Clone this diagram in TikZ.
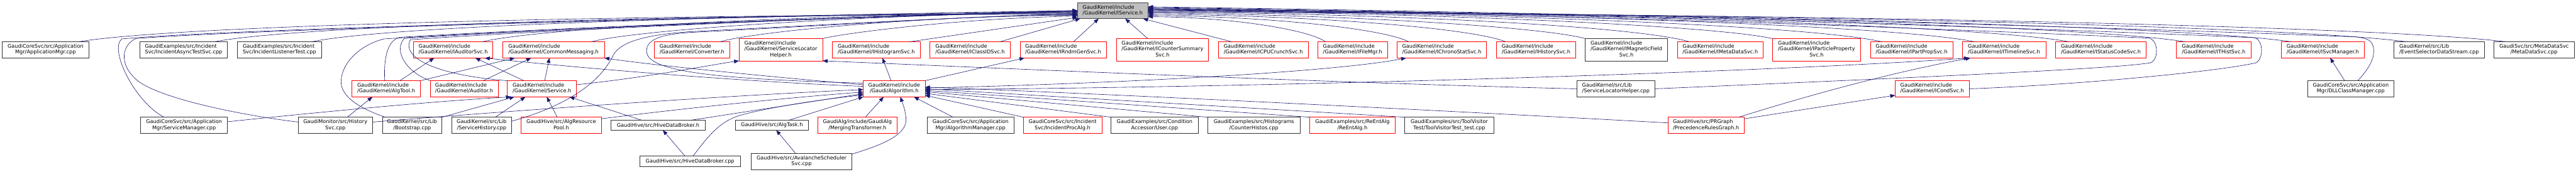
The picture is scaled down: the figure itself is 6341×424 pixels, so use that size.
\documentclass[tikz,border=0pt]{standalone}
\usepackage{fontspec}
\setmainfont{DejaVu Sans}
\usetikzlibrary{arrows.meta,calc}
\definecolor{edgec}{HTML}{191970}
\definecolor{rootfill}{HTML}{BFBFBF}
\definecolor{rootdraw}{HTML}{404040}
\newcommand\twol[2]{\begin{tabular}{@{}l@{}}#1\\\multicolumn{1}{@{}c@{}}{#2}\end{tabular}}
\newcommand\threel[3]{\begin{tabular}{@{}l@{}}#1\\#2\\\multicolumn{1}{@{}c@{}}{#3}\end{tabular}}
\newcommand\bx[7]{\node[#6, minimum width={(#4-#2)*0.75pt}, minimum height={(#5-#3)*0.75pt}] (#1) at ({(#2+#4)/2},{(#3+#5)/2}) {#7};}
\tikzset{
  basebox/.style={draw, line width=0.75pt, inner sep=0pt, outer sep=0pt, font=\fontsize{9.5}{10.75}\selectfont},
  blk/.style={basebox, draw=black!80},
  redbox/.style={basebox, draw=red},
  rootbox/.style={basebox, draw=rootdraw, fill=rootfill},
  edg/.style={draw=edgec, line width=0.7pt, -{Triangle[length=9pt,width=7pt]}},
}
\begin{document}
\begin{tikzpicture}[x=0.75pt,y=-0.75pt]
\fill[white] (0,0) rectangle (6341,424);
\useasboundingbox (0,0) rectangle (6341,424);
% root
\bx{root}{2652}{6}{2826}{46}{rootbox}{\twol{GaudiKernel/include}{/GaudiKernel/IService.h}}
% row 1
\bx{appmgr}{5}{103}{219}{143}{blk}{\twol{GaudiCoreSvc/src/Application}{Mgr/ApplicationMgr.cpp}}
\bx{asynct}{344}{103}{560}{143}{blk}{\twol{GaudiExamples/src/Incident}{Svc/IncidentAsyncTestSvc.cpp}}
\bx{listt}{584}{103}{792}{143}{blk}{\twol{GaudiExamples/src/Incident}{Svc/IncidentListenerTest.cpp}}
\bx{iaud}{1018}{103}{1213}{143}{redbox}{\twol{GaudiKernel/include}{/GaudiKernel/IAuditorSvc.h}}
\bx{commsg}{1237}{103}{1488}{143}{redbox}{\twol{GaudiKernel/include}{/GaudiKernel/CommonMessaging.h}}
\bx{conv}{1611}{103}{1796}{143}{redbox}{\twol{GaudiKernel/include}{/GaudiKernel/Converter.h}}
\bx{slhh}{1819}{95}{2025}{150}{redbox}{\threel{GaudiKernel/include}{/GaudiKernel/ServiceLocator}{Helper.h}}
\bx{ihist}{2049}{103}{2265}{143}{redbox}{\twol{GaudiKernel/include}{/GaudiKernel/IHistogramSvc.h}}
\bx{iclid}{2289}{103}{2487}{143}{redbox}{\twol{GaudiKernel/include}{/GaudiKernel/IClassIDSvc.h}}
\bx{irndm}{2511}{103}{2723}{143}{redbox}{\twol{GaudiKernel/include}{/GaudiKernel/IRndmGenSvc.h}}
\bx{icsum}{2748}{95}{2975}{150}{redbox}{\threel{GaudiKernel/include}{/GaudiKernel/ICounterSummary}{Svc.h}}
\bx{icpu}{2999}{103}{3220}{143}{redbox}{\twol{GaudiKernel/include}{/GaudiKernel/ICPUCrunchSvc.h}}
\bx{ifile}{3244}{103}{3415}{143}{redbox}{\twol{GaudiKernel/include}{/GaudiKernel/IFileMgr.h}}
\bx{ichrono}{3439}{103}{3659}{143}{redbox}{\twol{GaudiKernel/include}{/GaudiKernel/IChronoStatSvc.h}}
\bx{ihistory}{3683}{103}{3879}{143}{redbox}{\twol{GaudiKernel/include}{/GaudiKernel/IHistorySvc.h}}
\bx{imag}{3902}{95}{4105}{150}{blk}{\threel{GaudiKernel/include}{/GaudiKernel/IMagneticField}{Svc.h}}
\bx{imeta}{4129}{103}{4340}{143}{redbox}{\twol{GaudiKernel/include}{/GaudiKernel/IMetaDataSvc.h}}
\bx{ipp}{4363}{95}{4580}{150}{redbox}{\threel{GaudiKernel/include}{/GaudiKernel/IParticleProperty}{Svc.h}}
\bx{ippsvc}{4604}{103}{4807}{143}{redbox}{\twol{GaudiKernel/include}{/GaudiKernel/IPartPropSvc.h}}
\bx{itime}{4830}{103}{5036}{143}{redbox}{\twol{GaudiKernel/include}{/GaudiKernel/ITimelineSvc.h}}
\bx{istat}{5060}{103}{5283}{143}{redbox}{\twol{GaudiKernel/include}{/GaudiKernel/IStatusCodeSvc.h}}
\bx{ithist}{5357}{103}{5541}{143}{redbox}{\twol{GaudiKernel/include}{/GaudiKernel/ITHistSvc.h}}
\bx{isvcm}{5616}{103}{5819}{143}{redbox}{\twol{GaudiKernel/include}{/GaudiKernel/ISvcManager.h}}
\bx{evsel}{5893}{103}{6115}{143}{blk}{\twol{GaudiKernel/src/Lib}{/EventSelectorDataStream.cpp}}
\bx{metacpp}{6139}{103}{6336}{143}{blk}{\twol{GaudiSvc/src/MetaDataSvc}{/MetaDataSvc.cpp}}
% row 2
\bx{algtool}{866}{199}{1035}{239}{redbox}{\twol{GaudiKernel/include}{/GaudiKernel/AlgTool.h}}
\bx{auditor}{1059}{199}{1226}{239}{redbox}{\twol{GaudiKernel/include}{/GaudiKernel/Auditor.h}}
\bx{service}{1249}{199}{1419}{239}{redbox}{\twol{GaudiKernel/include}{/GaudiKernel/Service.h}}
\bx{algo}{2125}{199}{2277}{239}{redbox}{\twol{GaudiKernel/include}{/Gaudi/Algorithm.h}}
\bx{slhcpp}{3882}{199}{4073}{239}{blk}{\twol{GaudiKernel/src/Lib}{/ServiceLocatorHelper.cpp}}
\bx{icond}{4665}{199}{4847}{239}{redbox}{\twol{GaudiKernel/include}{/GaudiKernel/ICondSvc.h}}
\bx{dllcm}{5680}{199}{5893}{239}{blk}{\twol{GaudiCoreSvc/src/Application}{Mgr/DLLClassManager.cpp}}
% row 3
\bx{svcmgr}{346}{289}{560}{329}{blk}{\twol{GaudiCoreSvc/src/Application}{Mgr/ServiceManager.cpp}}
\bx{histsvc}{734}{289}{917}{329}{blk}{\twol{GaudiMonitor/src/History}{Svc.cpp}}
\bx{boot}{941}{289}{1088}{329}{blk}{\twol{GaudiKernel/src/Lib}{/Bootstrap.cpp}}
\bx{svchist}{1112}{289}{1259}{329}{blk}{\twol{GaudiKernel/src/Lib}{/ServiceHistory.cpp}}
\bx{arp}{1283}{289}{1480}{329}{redbox}{\twol{GaudiHive/src/AlgResource}{Pool.h}}
\bx{hdbh}{1504}{296}{1736}{321}{blk}{GaudiHive/src/HiveDataBroker.h}
\bx{algtask}{1810}{296}{1990}{321}{blk}{GaudiHive/src/AlgTask.h}
\bx{mergt}{2013}{289}{2208}{329}{redbox}{\twol{GaudiAlg/include/GaudiAlg}{/MergingTransformer.h}}
\bx{algmgr}{2282}{289}{2496}{329}{blk}{\twol{GaudiCoreSvc/src/Application}{Mgr/AlgorithmManager.cpp}}
\bx{incproc}{2519}{289}{2712}{329}{redbox}{\twol{GaudiCoreSvc/src/Incident}{Svc/IncidentProcAlg.h}}
\bx{user}{2735}{289}{2949}{329}{blk}{\twol{GaudiExamples/src/Condition}{Accessor/User.cpp}}
\bx{cntrh}{2973}{289}{3200}{329}{blk}{\twol{GaudiExamples/src/Histograms}{/CounterHistos.cpp}}
\bx{reent}{3224}{289}{3434}{329}{redbox}{\twol{GaudiExamples/src/ReEntAlg}{/ReEntAlg.h}}
\bx{toolv}{3458}{289}{3677}{329}{blk}{\twol{GaudiExamples/src/ToolVisitor}{Test/ToolVisitorTest\_test.cpp}}
\bx{prg}{4106}{289}{4293}{329}{redbox}{\twol{GaudiHive/src/PRGraph}{/PrecedenceRulesGraph.h}}
% row 4
\bx{hdbcpp}{1575}{385}{1822}{411}{blk}{GaudiHive/src/HiveDataBroker.cpp}
\bx{avsched}{1849}{378}{2097}{418}{blk}{\twol{GaudiHive/src/AvalancheScheduler}{Svc.cpp}}

% ---- row 1 -> root (left)
\draw[edg] ($(appmgr.north west)!.88!(appmgr.north east)$) .. controls (439,62) and (1545,36) .. (root.186);
\draw[edg] ($(asynct.north west)!.85!(asynct.north east)$) .. controls (740,62) and (1696,36) .. (root.185);
\draw[edg] ($(listt.north west)!.88!(listt.north east)$) .. controls (956,64) and (1804,36) .. (root.184);
\draw[edg] ($(iaud.north west)!.87!(iaud.north east)$) .. controls (1334,68) and (1993,36) .. (root.183);
\draw[edg] ($(commsg.north west)!.87!(commsg.north east)$) .. controls (1576,72) and (2114,38) .. (root.182);
\draw[edg] ($(conv.north west)!.87!(conv.north east)$) .. controls (1860,78) and (2256,40) .. (root.187);
\draw[edg] (slhh.north east) .. controls (2088,80) and (2370,45) .. (root.189);
\draw[edg] ($(ihist.north west)!.88!(ihist.north east)$) -- (root.191);
\draw[edg] ($(iclid.north west)!.87!(iclid.north east)$) -- (root.194);
\draw[edg] ($(irndm.north west)!.62!(irndm.north east)$) -- (root.210);
\draw[edg] ($(icsum.north west)!.34!(icsum.north east)$) -- (root.327);
\draw[edg] ($(icpu.north west)!.15!(icpu.north east)$) -- (root.345);
% ---- row 1 -> root (right)
\draw[edg] ($(ifile.north west)!.11!(ifile.north east)$) .. controls (3219,72) and (3023,42) .. (root.350);
\draw[edg] ($(ichrono.north west)!.13!(ichrono.north east)$) .. controls (3404,70) and (3115,40) .. (root.352);
\draw[edg] ($(ihistory.north west)!.12!(ihistory.north east)$) .. controls (3619,68) and (3222,38) .. (root.354);
\draw[edg] (imag.north west) .. controls (3793,66) and (3310,36) .. (root.356);
\draw[edg] ($(imeta.north west)!.14!(imeta.north east)$) .. controls (4026,64) and (3426,34) .. (root.358);
\draw[edg] (ipp.north west) .. controls (4209,62) and (3518,32) .. (root.0);
\draw[edg] ($(ippsvc.north west)!.14!(ippsvc.north east)$) .. controls (4452,62) and (3639,32) .. (root.1);
\draw[edg] ($(itime.north west)!.15!(itime.north east)$) .. controls (4657,62) and (3741,32) .. (root.2);
\draw[edg] ($(istat.north west)!.15!(istat.north east)$) .. controls (4867,62) and (3847,32) .. (root.3);
\draw[edg] ($(ithist.north west)!.12!(ithist.north east)$) .. controls (5124,62) and (3975,32) .. (root.2);
\draw[edg] ($(isvcm.north west)!.12!(isvcm.north east)$) .. controls (5360,62) and (4093,32) .. (root.1);
\draw[edg] ($(evsel.north west)!.14!(evsel.north east)$) .. controls (5613,62) and (4220,32) .. (root.359);
\draw[edg] ($(metacpp.north west)!.15!(metacpp.north east)$) .. controls (5834,62) and (4330,32) .. (root.357);
% ---- right loops
\draw[edg] (slhcpp.east) .. controls (4700,192) and (5200,170) .. (5293,155) .. controls (5314,148) and (5314,100) .. (5290,94) .. controls (4600,62) and (3600,30) .. (root.4);
\draw[edg] (icond.east) .. controls (5100,210) and (5450,178) .. (5553,155) .. controls (5572,145) and (5572,100) .. (5550,93) .. controls (4800,60) and (3700,30) .. (root.5);
\draw[edg] ($(dllcm.north west)!.58!(dllcm.north east)$) .. controls (5822,180) and (5845,150) .. (5843,123) .. controls (5841,100) and (5830,95) .. (5800,91) .. controls (5000,60) and (3800,30) .. (root.6);
\draw[edg] ($(dllcm.north west)!.43!(dllcm.north east)$) -- ($(isvcm.south west)!.59!(isvcm.south east)$);
% ---- left cluster to root
\draw[edg] ($(algtool.north west)!.48!(algtool.north east)$) .. controls (944,140) and (955,98) .. (985,92) .. controls (1400,66) and (2300,34) .. (root.181);
\draw[edg] (auditor.north west) .. controls (1000,178) and (968,125) .. (995,95) .. controls (1400,68) and (2300,34) .. (root.182);
\draw[edg] (service.north west) .. controls (1100,188) and (985,150) .. (1010,98) .. controls (1400,70) and (2300,34) .. (root.180);
\draw[edg] ($(svcmgr.north west)!.27!(svcmgr.north east)$) .. controls (330,250) and (268,120) .. (300,96) .. controls (600,68) and (2000,36) .. (root.180);
\draw[edg] ($(histsvc.north west)!.3!(histsvc.south west)$) .. controls (600,285) and (400,245) .. (340,200) .. controls (290,160) and (300,110) .. (335,95) .. controls (700,68) and (2000,36) .. (root.181);
\draw[edg] ($(boot.north west)!.05!(boot.north east)$) .. controls (870,262) and (835,230) .. (840,195) .. controls (845,150) and (890,110) .. (945,96) .. controls (1350,70) and (2300,34) .. (root.182);
\draw[edg] ($(svchist.north east)!.25!(svchist.south east)$) .. controls (1400,260) and (1480,200) .. (1510,135) .. controls (1530,100) and (1600,85) .. (1700,78) .. controls (2100,58) and (2450,36) .. (root.188);
\draw[edg] ($(algo.north west)!.15!(algo.south west)$) .. controls (1750,195) and (1600,175) .. (1592,130) .. controls (1588,100) and (1620,85) .. (1700,80) .. controls (2100,60) and (2450,36) .. (root.186);
% ---- row 2 internal
\draw[edg] ($(algtool.north west)!.70!(algtool.north east)$) -- ($(iaud.south west)!.26!(iaud.south east)$);
\draw[edg] (algtool.north east) -- ($(commsg.south west)!.12!(commsg.south east)$);
\draw[edg] ($(auditor.north west)!.78!(auditor.north east)$) -- ($(commsg.south west)!.28!(commsg.south east)$);
\draw[edg] ($(service.north west)!.24!(service.north east)$) -- ($(iaud.south west)!.78!(iaud.south east)$);
\draw[edg] ($(service.north west)!.54!(service.north east)$) -- ($(commsg.south west)!.46!(commsg.south east)$);
\draw[edg] ($(service.north east)!.25!(service.south east)$) .. controls (1600,190) and (1750,160) .. (slhh.south west);
\draw[edg] ($(algo.north west)!.35!(algo.south west)$) .. controls (1800,200) and (1400,165) .. ($(iaud.south west)!.9!(iaud.south east)$);
\draw[edg] ($(algo.north west)!.25!(algo.south west)$) .. controls (1900,190) and (1600,160) .. (commsg.south east);
\draw[edg] ($(algo.north west)!.45!(algo.north east)$) -- ($(ihist.south west)!.57!(ihist.south east)$);
\draw[edg] (algo.north east) -- ($(irndm.south west)!.05!(irndm.south east)$);
\draw[edg] ($(algo.north east)!.45!(algo.south east)$) .. controls (2800,205) and (3300,175) .. ($(ichrono.south west)!.1!(ichrono.south east)$);
\draw[edg] ($(algo.north east)!.55!(algo.south east)$) .. controls (3200,215) and (4400,175) .. ($(itime.south west)!.08!(itime.south east)$);
\draw[edg] (slhcpp.west) .. controls (3300,205) and (2500,170) .. (slhh.south east);
% ---- row 3 -> row 2
\draw[edg] ($(svcmgr.north east)!.28!(svcmgr.south east)$) .. controls (900,265) and (1100,248) .. ($(service.south west)!.05!(service.south east)$);
\draw[edg] (boot.north east) -- ($(service.south west)!.1!(service.south east)$);
\draw[edg] ($(svchist.north west)!.73!(svchist.north east)$) -- ($(service.south west)!.26!(service.south east)$);
\draw[edg] ($(arp.north west)!.45!(arp.north east)$) -- ($(service.south west)!.57!(service.south east)$);
\draw[edg] ($(hdbh.north west)!.32!(hdbh.north east)$) -- ($(service.south west)!.9!(service.south east)$);
\draw[edg] ($(histsvc.north west)!.66!(histsvc.north east)$) -- ($(algtool.south west)!.3!(algtool.south east)$);
\draw[edg] ($(histsvc.north east)!.3!(histsvc.south east)$) .. controls (1300,270) and (1800,235) .. ($(algo.north west)!.55!(algo.south west)$);
\draw[edg] ($(arp.north east)!.1!(arp.south east)$) .. controls (1700,265) and (1950,240) .. ($(algo.north west)!.7!(algo.south west)$);
\draw[edg] ($(hdbh.north west)!.86!(hdbh.north east)$) -- ($(algo.north west)!.8!(algo.south west)$);
\draw[edg] ($(algtask.north west)!.74!(algtask.north east)$) -- (algo.south west);
\draw[edg] ($(mergt.north west)!.6!(mergt.north east)$) -- ($(algo.south west)!.33!(algo.south east)$);
\draw[edg] ($(algmgr.north west)!.3!(algmgr.north east)$) -- ($(algo.south west)!.82!(algo.south east)$);
\draw[edg] (incproc.north west) -- ($(algo.north east)!.9!(algo.south east)$);
\draw[edg] (user.north west) -- ($(algo.north east)!.78!(algo.south east)$);
\draw[edg] (cntrh.north west) -- ($(algo.north east)!.68!(algo.south east)$);
\draw[edg] (reent.north west) -- ($(algo.north east)!.6!(algo.south east)$);
\draw[edg] (toolv.north west) -- ($(algo.north east)!.5!(algo.south east)$);
\draw[edg] ($(prg.north west)!.35!(prg.south west)$) .. controls (3500,270) and (2700,230) .. ($(algo.north east)!.4!(algo.south east)$);
\draw[edg] ($(prg.north west)!.93!(prg.north east)$) .. controls (4500,220) and (4700,170) .. ($(itime.south west)!.1!(itime.south east)$);
\draw[edg] ($(prg.north east)!.1!(prg.south east)$) -- ($(icond.north west)!.9!(icond.south west)$);
% ---- row 4
\draw[edg] ($(hdbcpp.north west)!.45!(hdbcpp.north east)$) -- ($(hdbh.south west)!.55!(hdbh.south east)$);
\draw[edg] ($(hdbcpp.north west)!.53!(hdbcpp.north east)$) .. controls (1740,340) and (1770,300) .. (1820,285) .. controls (1900,262) and (2050,242) .. ($(algo.north west)!.88!(algo.south west)$);
\draw[edg] ($(avsched.north west)!.44!(avsched.north east)$) -- ($(algtask.south west)!.56!(algtask.south east)$);
\draw[edg] ($(avsched.north east)!.05!(avsched.south east)$) .. controls (2180,355) and (2235,330) .. (2230,290) .. controls (2228,270) and (2222,255) .. ($(algo.south west)!.6!(algo.south east)$);
\end{tikzpicture}
\end{document}
